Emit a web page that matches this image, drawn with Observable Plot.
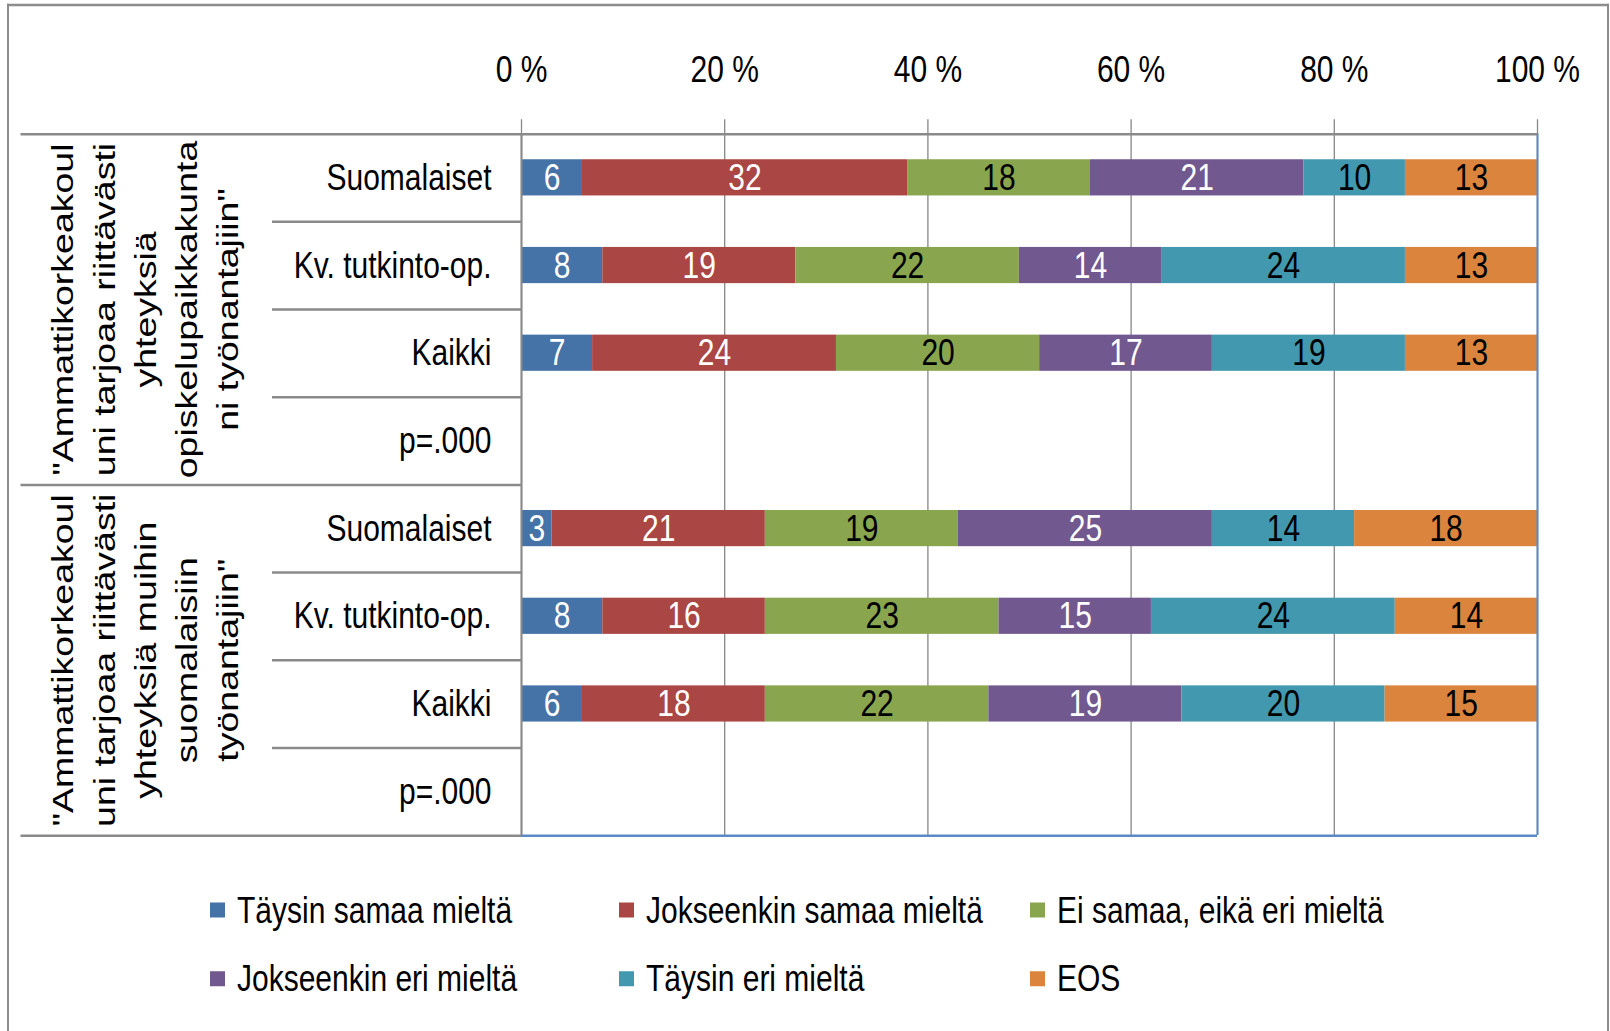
<!DOCTYPE html>
<html><head><meta charset="utf-8">
<script src="https://cdn.jsdelivr.net/npm/d3@7"></script>
<script src="https://cdn.jsdelivr.net/npm/@observablehq/plot@0.6"></script>
<style>
html{overflow:hidden;}
html,body{margin:0;padding:0;background:#fff;}
body{width:1610px;height:1031px;}
#wrap{position:relative;width:1610px;height:825px;transform:scaleY(1.25);transform-origin:0 0;font-family:"Liberation Sans",Arial,sans-serif;background:#fff;}
#frame{position:absolute;left:7px;top:3px;width:1602px;height:900px;border:2px solid #8c8c8c;border-bottom:none;box-sizing:border-box;pointer-events:none;}
#chart{position:absolute;left:0;top:0;}
.leg{position:absolute;height:34px;display:flex;align-items:center;font-size:30px;white-space:nowrap;color:#000;}
.sw{display:inline-block;width:15px;height:12px;margin-right:12px;}
</style></head>
<body><div id="wrap"><div id="chart"></div><div id="legend"></div><div id="frame"></div></div>
<script>
const categories = ["Täysin samaa mieltä", "Jokseenkin samaa mieltä", "Ei samaa, eikä eri mieltä", "Jokseenkin eri mieltä", "Täysin eri mieltä", "EOS"];
const colors = ["#4572a7", "#aa4643", "#89a54e", "#71588f", "#4198af", "#db843d"];
const labelColors = ["white", "white", "black", "white", "black", "black"];
const rowLabels = ["Suomalaiset", "Kv. tutkinto-op.", "Kaikki", "p=.000"];
const group1Lines = ["\"Ammattikorkeakoul", "uni tarjoaa riittävästi", "yhteyksiä", "opiskelupaikkakunta", "ni työnantajiin\""];
const group2Lines = ["\"Ammattikorkeakoul", "uni tarjoaa riittävästi", "yhteyksiä muihin", "suomalaisiin", "työnantajiin\""];
const group1Values = [[6, 32, 18, 21, 10, 13], [8, 19, 22, 14, 24, 13], [7, 24, 20, 17, 19, 13]];
const group2Values = [[3, 21, 19, 25, 14, 18], [8, 16, 23, 15, 24, 14], [6, 18, 22, 19, 20, 15]];
const xTicks = [0, 20, 40, 60, 80, 100];

const W = 1610, H = 690;
const mL = 521, mR = 73, mT = 106.8, mB = 22;
const plotW = W - mL - mR;
const pxToX = px => px / plotW * 100;
const rowsPerGroup = rowLabels.length;
const groups = [{lines: group1Lines, values: group1Values}, {lines: group2Lines, values: group2Values}];

const bars = [], rowsData = [], groupData = [];
groups.forEach((g, gi) => {
  rowLabels.forEach((lab, ri) => rowsData.push({row: gi * rowsPerGroup + ri, label: lab}));
  g.values.forEach((vals, ri) => vals.forEach((v, ci) => bars.push({row: gi * rowsPerGroup + ri, cat: categories[ci], value: v, ink: labelColors[ci]})));
  groupData.push({mid: gi * rowsPerGroup + rowsPerGroup / 2, text: g.lines.join("\n")});
});
const nRows = groups.length * rowsPerGroup;
const innerBounds = [], groupBounds = [];
for (let b = 0; b <= nRows; b++) (b % rowsPerGroup === 0 ? groupBounds : innerBounds).push(b);

const gray = "#8a8a8a", blue = "#5b8ac6";
const chart = Plot.plot({
  width: W, height: H,
  marginLeft: mL, marginRight: mR, marginTop: mT, marginBottom: mB,
  style: {fontFamily: "Liberation Sans, Arial, sans-serif", fontSize: "30px", background: "transparent", color: "#000"},
  x: {domain: [0, 100], axis: null, label: null},
  y: {domain: [0, nRows], reverse: true, axis: null},
  color: {domain: categories, range: colors},
  marks: [
    Plot.gridX(xTicks, {stroke: "#878787", strokeOpacity: 1, strokeWidth: 1.3}),
    Plot.axisX(xTicks, {anchor: "top", label: null, tickSize: 12.4, tickPadding: 29, tickFormat: d => d + " %", stroke: "#878787", strokeWidth: 1.3, fill: "#000", fontSize: 30}),
    Plot.rectX(bars, Plot.stackX({y1: "row", y2: d => d.row + 1, x: "value", fill: "cat", insetTop: 20.6, insetBottom: 20.6})),
    Plot.text(bars, Plot.stackX({y: d => d.row + 0.5, x: "value", text: d => String(d.value), fill: "ink", fontSize: 30})),
    Plot.text(rowsData, {y: d => d.row + 0.5, frameAnchor: "left", dx: -30, text: "label", textAnchor: "end", fontSize: 30, fill: "#000"}),
    Plot.text(groupData, {y: "mid", frameAnchor: "left", dx: -379, text: "text", rotate: -90, textAnchor: "middle", lineAnchor: "middle", lineHeight: 1.37, fontSize: 30, fill: "#000"}),
    Plot.ruleY(innerBounds, {x1: -pxToX(249), x2: 0, stroke: gray, strokeWidth: 2}),
    Plot.ruleY(groupBounds, {x1: -pxToX(500.5), x2: 0, stroke: gray, strokeWidth: 2}),
    Plot.ruleX([100], {y1: 0, y2: nRows, stroke: blue, strokeWidth: 2}),
    Plot.ruleY([nRows], {x1: 0, x2: 100, stroke: blue, strokeWidth: 2}),
    Plot.ruleY([0], {x1: 0, x2: 100, stroke: gray, strokeWidth: 2}),
    Plot.ruleX([0], {y1: 0, y2: nRows, stroke: gray, strokeWidth: 2})
  ]
});
document.getElementById("chart").appendChild(chart);

const legendCols = [210, 619, 1030];
const legendRows = [711, 766];
const legend = document.getElementById("legend");
categories.forEach((c, i) => {
  const item = document.createElement("div");
  item.className = "leg";
  item.style.left = legendCols[i % 3] + "px";
  item.style.top = legendRows[Math.floor(i / 3)] + "px";
  const sw = document.createElement("span");
  sw.className = "sw";
  sw.style.background = colors[i];
  item.appendChild(sw);
  item.appendChild(document.createTextNode(c));
  legend.appendChild(item);
});
</script></body></html>
